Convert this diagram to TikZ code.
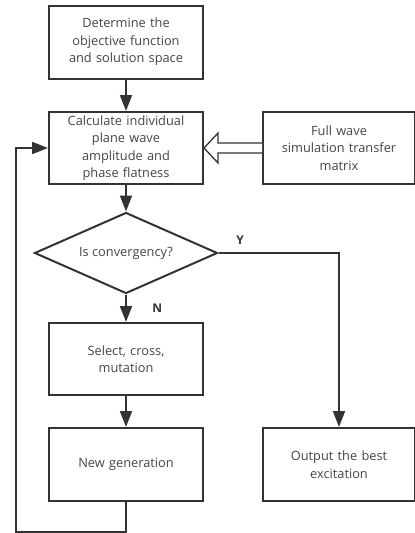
\documentclass[tikz,border=0pt]{standalone}
\usepackage{fontspec}
\setmainfont{Open Sans}
\usetikzlibrary{shapes.geometric,arrows.meta,calc}
\definecolor{lc}{HTML}{333333}
\definecolor{tc}{HTML}{444444}
\begin{document}
\begin{tikzpicture}[x=1pt,y=-1pt,
  box/.style={draw=lc,line width=2pt,rectangle,minimum width=154pt,minimum height=73pt,
    inner sep=0pt,align=center,text=tc,font=\fontsize{12.8}{17.5}\selectfont,text width=150pt},
  dec/.style={draw=lc,line width=2pt,diamond,aspect=2.26,minimum width=183pt,minimum height=81pt,
    inner sep=0pt,text=tc,font=\fontsize{12.8}{17.5}\selectfont},
  arr/.style={draw=lc,line width=2pt,-{Triangle[length=16pt,width=12pt]}},
  lab/.style={text=lc,font=\fontsize{12}{14}\selectfont\bfseries}]
\useasboundingbox (0,0) rectangle (415,533);
\node[box] (det) at (126,42) {Determine the\\objective function\\and solution space};
\node[box,minimum height=72pt] (calc) at (126,148) {Calculate individual\\plane wave\\amplitude and\\phase flatness};
\node[box,minimum width=152pt,minimum height=72pt] (full) at (339,148) {Full wave\\simulation transfer\\matrix};
\node[dec] (conv) at (126,253) {Is convergency?};
\node[box,minimum height=72pt] (sel) at (126,359) {Select, cross,\\mutation};
\node[box] (newg) at (126,464.5) {New generation};
\node[box,minimum width=152pt] (out) at (339,464.5) {Output the best\\excitation};
\coordinate (loop) at (16,532);
\draw[arr] (det) -- (calc);
\draw[arr] (calc) -- (conv);
\draw[arr] (conv) -- node[lab,pos=0.5,right=22pt] {N} (sel);
\draw[arr] (sel) -- (newg);
\draw[arr] (conv.east) -| node[lab,pos=0.09,above=4pt] {Y} (out.north);
\draw[arr] (newg.south) |- (loop) |- (calc.west);
\draw[draw=lc,line width=1.3pt,fill=white,line join=miter]
  (full.west) ++(0,-5) -- ($(calc.east)+(14,-5)$) -- ($(calc.east)+(14,-15)$) -- (calc.east)
  -- ($(calc.east)+(14,15)$) -- ($(calc.east)+(14,5)$) -- ($(full.west)+(0,5)$);
\end{tikzpicture}
\end{document}
